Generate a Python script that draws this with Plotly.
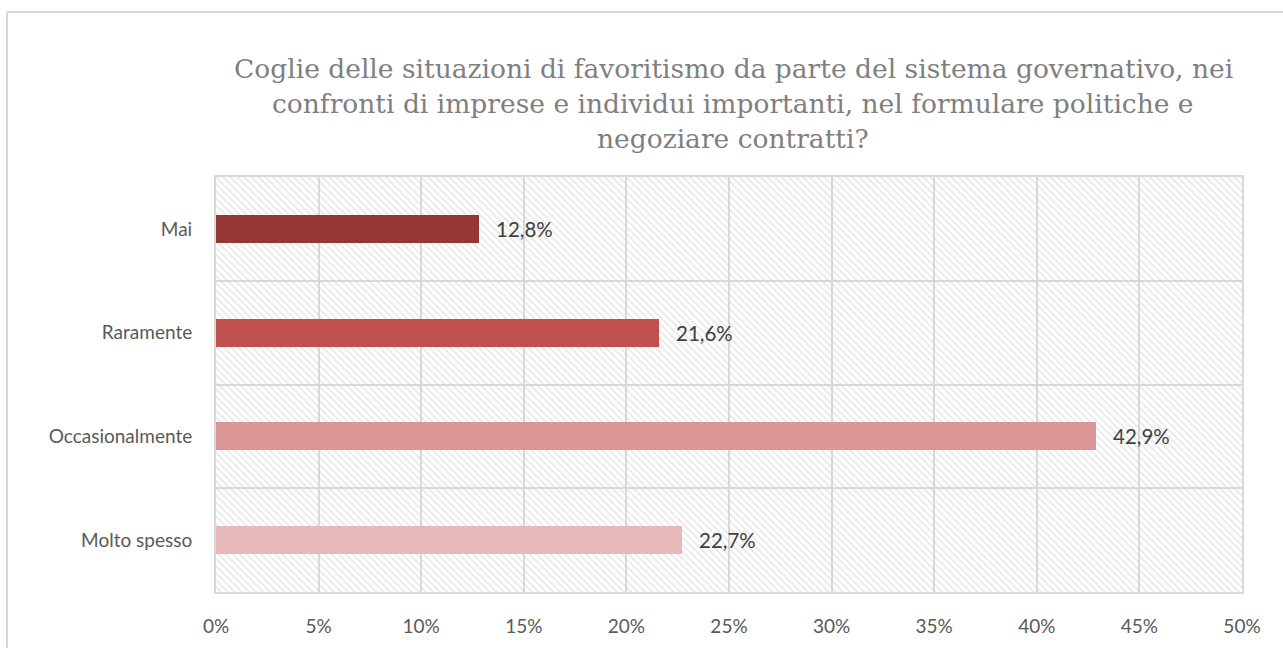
import plotly.graph_objects as go

# Survey answers, listed top to bottom
categories = ["Mai", "Raramente", "Occasionalmente", "Molto spesso"]
values = [12.8, 21.6, 42.9, 22.7]
colors = ["#953735", "#C0504D", "#D99694", "#E6B9B8"]
x_ticks = [0, 5, 10, 15, 20, 25, 30, 35, 40, 45, 50]
x_labels = [f"{v}%" for v in x_ticks]

title_lines = [
    "Coglie delle situazioni di favoritismo da parte del sistema governativo, nei",
    "confronti di imprese e individui importanti, nel formulare politiche e",
    "negoziare contratti?",
]

W, H = 1283, 648
L, R, T, B = 216, 41, 177, 56
PW, PH = W - L - R, H - T - B
GRID = "#D9D9D9"
LABEL_FONT = "Lato, sans-serif"
pos = list(range(len(categories)))

fig = go.Figure()

# hatched plot-area background
fig.add_trace(go.Bar(
    x=[50], y=[1.5], width=[4], orientation="h", base=0,
    marker=dict(color="rgba(0,0,0,0)", line=dict(width=0),
                pattern=dict(shape="\\", fgcolor="#D2D2D2", bgcolor="rgba(0,0,0,0)",
                             size=5, solidity=0.35, fillmode="overlay")),
    hoverinfo="skip", showlegend=False,
))

fig.add_trace(go.Bar(
    x=values, y=pos, orientation="h", width=0.27,
    marker=dict(color=colors, line=dict(width=0)),
    showlegend=False,
))

for v, p in zip(values, pos):
    fig.add_annotation(
        x=v, y=p, xref="x", yref="y", text=f"{v:.1f}%".replace(".", ","),
        showarrow=False, xanchor="left", yanchor="middle", xshift=15,
        font=dict(family=LABEL_FONT, size=20.5, color="#404040"),
    )

# three-line title, centred over the plot
for i, line in enumerate(title_lines):
    fig.add_annotation(
        x=(733 - L) / PW, y=(H - B - (69 + 34.5 * i)) / PH, xref="paper", yref="paper",
        text=line, showarrow=False, xanchor="center", yanchor="middle",
        font=dict(family="DejaVu Serif, serif", size=26.5, color="#7F7F7F"),
    )

# outer chart frame
fig.add_shape(type="rect", xref="paper", yref="paper",
              x0=(7 - L) / PW, x1=1.2,
              y0=-0.5, y1=(H - B - 12) / PH,
              line=dict(color=GRID, width=2), fillcolor="rgba(0,0,0,0)", layer="below")

fig.update_layout(
    width=W, height=H,
    margin=dict(l=L, r=R, t=T, b=B),
    paper_bgcolor="white", plot_bgcolor="white",
    bargap=0,
    font=dict(family=LABEL_FONT, size=19, color="#595959"),
    xaxis=dict(range=[0, 50], tickvals=x_ticks, ticktext=x_labels,
               showgrid=True, gridcolor=GRID, gridwidth=2, zeroline=False,
               showline=True, mirror=True, linecolor=GRID, linewidth=2,
               ticks="", ticklabelstandoff=16, fixedrange=True),
    yaxis=dict(range=[3.5, -0.5], tickvals=pos, ticktext=categories,
               showgrid=False, zeroline=False,
               minor=dict(tickvals=[0.5, 1.5, 2.5], showgrid=True, gridcolor=GRID, gridwidth=2, ticks=""),
               showline=True, mirror=True, linecolor=GRID, linewidth=2,
               ticks="", ticklabelstandoff=18, fixedrange=True),
)

fig.write_html("out.html")
